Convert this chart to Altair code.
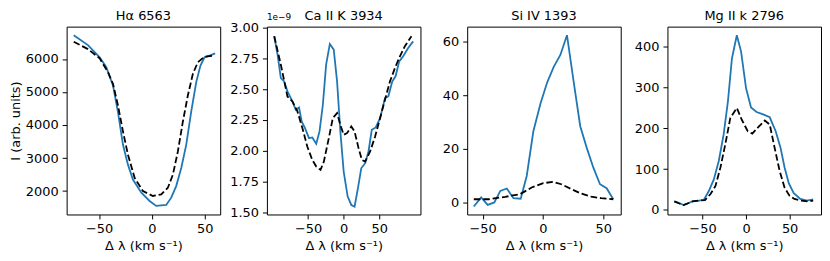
import altair as alt
import pandas as pd

FONT = "DejaVu Sans"
BLUE = "#1f77b4"

TITLES = ["H\u03b1 6563", "Ca II K 3934", "Si IV 1393", "Mg II k 2796"]
X_TITLE = "\u0394 \u03bb (km s\u207b\u00b9)"
Y_TITLE = "I (arb. units)"

# ---- H alpha 6563 ----
HA_BX = [-74.1, -60.6, -49.5, -43.2, -36.9, -32.2, -27.4, -22.7, -18.0, -10.0, -2.2, 4.1, 13.6, 18.3,
         23.0, 27.8, 32.5, 37.2, 42.0, 46.0, 49.8, 54.6, 59.9]
HA_BY = [6720, 6420, 6050, 5750, 5200, 4400, 3400, 2800, 2350, 1950, 1700, 1550, 1580, 1800,
         2150, 2700, 3400, 4400, 5300, 5800, 6050, 6100, 6170]
HA_KX = [-74.1, -60.6, -49.5, -41.6, -36.9, -32.2, -27.4, -22.7, -16.4, -8.5, 0.9, 8.8, 15.1, 19.9,
         24.6, 29.3, 34.1, 38.8, 43.5, 49.8, 59.3]
HA_KY = [6520, 6300, 6020, 5600, 5250, 4600, 3800, 3100, 2400, 2000, 1850, 1900, 2100, 2500,
         3200, 4100, 4900, 5550, 5900, 6070, 6100]

# ---- Ca II K 3934 (values in units of 1e-9) ----
CA_BX = [-97.7, -93.0, -88.4, -83.7, -79.1, -72.1, -67.4, -62.8, -59.1, -54.4, -48.8, -44.2, -38.6,
         -34.0, -29.3, -24.7, -19.5, -14.0, -9.3, -4.7, 0.0, 5.6, 10.7, 15.3, 20.0, 24.7, 30.2, 34.9,
         39.5, 45.1, 51.2, 58.1, 62.8, 68.4, 73.0, 78.1, 83.7, 90.7, 97.7]
CA_BY = [2.927, 2.778, 2.589, 2.562, 2.481, 2.400, 2.332, 2.351, 2.238, 2.184, 2.103, 2.108, 2.057,
         2.157, 2.373, 2.697, 2.865, 2.819, 2.562, 2.157, 1.832, 1.630, 1.562, 1.549, 1.697, 1.859,
         1.900, 1.995, 2.170, 2.189, 2.265, 2.427, 2.441, 2.562, 2.603, 2.724, 2.765, 2.832, 2.886]
CA_KX = [-97.7, -88.4, -79.1, -72.1, -65.1, -58.1, -51.2, -44.2, -38.6, -32.6, -27.9, -20.9, -15.3,
         -9.3, -4.7, 0.0, 4.7, 10.7, 15.3, 20.9, 25.6, 30.2, 37.2, 44.2, 51.2, 58.1, 65.1, 72.1, 79.1,
         86.0, 95.3]
CA_KY = [2.927, 2.697, 2.440, 2.400, 2.319, 2.184, 2.035, 1.927, 1.873, 1.846, 1.913, 2.103, 2.265,
         2.305, 2.211, 2.130, 2.143, 2.197, 2.157, 2.022, 1.927, 1.913, 1.995, 2.116, 2.265, 2.414,
         2.562, 2.670, 2.765, 2.846, 2.927]
CA_SCALE = 1e-9

# ---- Si IV 1393 ----
SI_BX = [-57.3, -51.2, -45.8, -40.3, -35.3, -29.9, -24.4, -18.4, -13.4, -7.9, -1.9, 3.6, 9.0, 14.5,
         20.0, 25.5, 31.0, 36.4, 41.9, 47.4, 52.9, 58.4]
SI_BY = [-1.5, 1.9, -0.9, 0.0, 4.3, 5.2, 1.6, 1.4, 9.9, 26.6, 37.1, 44.9, 50.7, 55.1,
         62.5, 45.2, 28.5, 20.4, 13.0, 6.8, 5.3, 1.2]
SI_KX = [-57.3, -45.0, -31.2, -18.9, -9.3, 0.3, 8.5, 15.3, 23.6, 31.8, 40.0, 48.2, 58.4]
SI_KY = [1.2, 1.2, 2.1, 3.1, 5.6, 7.2, 7.7, 6.8, 5.0, 3.3, 2.2, 1.6, 1.2]

# ---- Mg II k 2796 ----
MG_BX = [-82.3, -76.6, -71.7, -67.2, -61.5, -54.0, -48.3, -42.6, -37.0, -31.3, -25.7, -20.8, -16.2,
         -10.6, -5.7, 0.0, 5.7, 12.1, 19.6, 27.2, 34.0, 39.6, 44.2, 49.1, 54.7, 62.3, 69.8, 77.0]
MG_BY = [21, 17, 12, 16, 21, 23, 25, 47, 75, 120, 185, 266, 371,
         428, 388, 298, 251, 240, 234, 227, 193, 152, 104, 65, 41, 27, 23, 26]
MG_KX = [-82.3, -76.6, -71.7, -67.2, -61.5, -54.0, -47.2, -40.8, -35.1, -29.4, -23.8, -18.1, -10.6,
         -4.9, 1.9, 7.2, 14.0, 21.5, 27.2, 32.8, 38.5, 44.2, 49.8, 55.5, 63.0, 70.6, 77.0]
MG_KY = [21, 16, 12, 16, 21, 23, 24, 39, 59, 104, 161, 225, 250,
         221, 193, 187, 203, 219, 209, 152, 96, 55, 35, 27, 23, 21, 23]

X_TICKS = [-50, 0, 50]
W, H = 154.5, 189


def panel(title, bx, by, kx, ky, xdom, ydom, yticks, ytitle=None, scale=1.0, label_expr=None,
          offset_text=None, title_dy=0):
    blue = pd.DataFrame({"x": bx, "y": [v * scale for v in by]})
    black = pd.DataFrame({"x": kx, "y": [v * scale for v in ky]})
    x_enc = alt.X("x:Q", scale=alt.Scale(domain=xdom, nice=False, zero=False),
                  axis=alt.Axis(values=X_TICKS, title=X_TITLE, format="d"))
    yaxis_kw = dict(values=[v * scale for v in yticks], title=ytitle)
    if label_expr is not None:
        yaxis_kw["labelExpr"] = label_expr
    else:
        yaxis_kw["format"] = "d"
    y_enc = alt.Y("y:Q", scale=alt.Scale(domain=[d * scale for d in ydom], nice=False, zero=False),
                  axis=alt.Axis(**yaxis_kw))
    lb = alt.Chart(blue).mark_line(color=BLUE, strokeWidth=1.8, clip=True).encode(x=x_enc, y=y_enc)
    lk = alt.Chart(black).mark_line(color="black", strokeWidth=1.8, strokeDash=[6.6, 2.9],
                                    clip=True).encode(x=x_enc, y=y_enc)
    layers = [lb, lk]
    if offset_text is not None:
        t = alt.Chart(pd.DataFrame({"t": [offset_text]})).mark_text(
            align="left", baseline="bottom", fontSize=9, font=FONT, color="black"
        ).encode(text="t:N", x=alt.value(0), y=alt.value(-5))
        layers.append(t)
    return alt.layer(*layers).properties(
        width=W, height=H,
        title=alt.TitleParams(title, fontSize=13, font=FONT, fontWeight="normal",
                              color="black", offset=4, anchor="middle", dy=title_dy),
    )


p1 = panel(TITLES[0], HA_BX, HA_BY, HA_KX, HA_KY, [-80.8, 64.7], [1290, 6980],
           [2000, 3000, 4000, 5000, 6000], ytitle=Y_TITLE)
p2 = panel(TITLES[1], CA_BX, CA_BY, CA_KX, CA_KY, [-108, 108], [1.485, 3.005],
           [1.5, 1.75, 2.0, 2.25, 2.5, 2.75, 3.0], scale=CA_SCALE,
           label_expr="format(datum.value * 1e9, '.2f')", offset_text="1e\u22129", title_dy=14)
p3 = panel(TITLES[2], SI_BX, SI_BY, SI_KX, SI_KY, [-62.8, 64.6], [-4.5, 65.7], [0, 20, 40, 60])
p4 = panel(TITLES[3], MG_BX, MG_BY, MG_KX, MG_KY, [-90.2, 86], [-11, 449], [0, 100, 200, 300, 400])

chart = alt.hconcat(p1, p2, p3, p4, spacing=46.5, bounds="flush").properties(
    padding={"left": 0, "top": 0, "right": 0, "bottom": 0}
).configure_view(
    stroke="black", strokeWidth=1
).configure_axis(
    grid=False, domain=False, tickColor="black", tickSize=4.5, tickWidth=1,
    labelFont=FONT, labelFontSize=13, labelColor="black", labelPadding=4,
    titleFont=FONT, titleFontSize=13, titleFontWeight="normal", titleColor="black",
    titlePadding=4
).configure_axisY(titlePadding=3)

chart.save("out.html", embed_options={"renderer": "svg", "actions": False})
